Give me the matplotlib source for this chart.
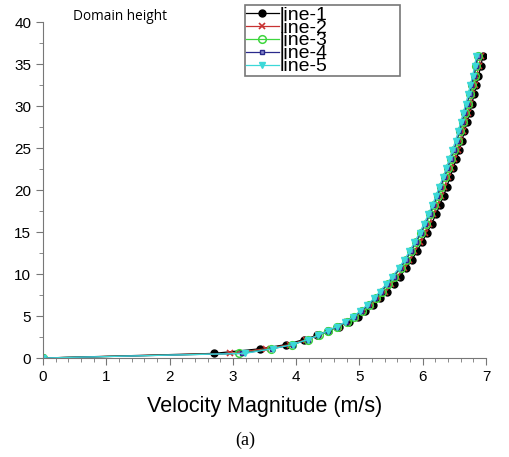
import matplotlib
matplotlib.use('Agg')
import matplotlib.pyplot as plt

# heights of the sample points (m)
heights = [0, 0.55, 1.1, 1.6, 2.2, 2.7, 3.25, 3.75, 4.3, 4.9, 5.6, 6.3, 7.1, 7.9, 8.8, 9.7,
           10.7, 11.7, 12.7, 13.8, 14.9, 16.0, 17.1, 18.2, 19.3, 20.4, 21.5, 22.6, 23.7,
           24.8, 25.9, 27.0, 28.1, 29.2, 30.3, 31.4, 32.5, 33.6, 34.8, 36.0]

# velocity magnitude for each line (m/s)
line1 = [0, 2.70, 3.43, 3.84, 4.12, 4.33, 4.50, 4.67, 4.83, 4.97, 5.09, 5.21, 5.33, 5.43,
         5.54, 5.64, 5.74, 5.83, 5.91, 5.99, 6.07, 6.14, 6.21, 6.27, 6.33, 6.38, 6.43, 6.48,
         6.53, 6.58, 6.62, 6.66, 6.70, 6.74, 6.78, 6.81, 6.85, 6.88, 6.92, 6.95]
line2 = [0, 2.95, 3.52, 3.90, 4.16, 4.35, 4.52, 4.67, 4.81, 4.94, 5.06, 5.18, 5.30, 5.40,
         5.50, 5.60, 5.70, 5.79, 5.87, 5.95, 6.03, 6.10, 6.17, 6.23, 6.29, 6.34, 6.40, 6.45,
         6.50, 6.55, 6.59, 6.63, 6.67, 6.71, 6.75, 6.78, 6.82, 6.85, 6.89, 6.92]
line3 = [0, 3.10, 3.60, 3.94, 4.18, 4.36, 4.51, 4.65, 4.80, 4.92, 5.04, 5.15, 5.26, 5.35,
         5.45, 5.55, 5.65, 5.74, 5.82, 5.90, 5.98, 6.05, 6.12, 6.18, 6.24, 6.29, 6.35, 6.40,
         6.45, 6.50, 6.55, 6.59, 6.63, 6.67, 6.71, 6.75, 6.78, 6.82, 6.85, 6.88]
line4 = [0, 3.15, 3.62, 3.95, 4.18, 4.35, 4.51, 4.65, 4.79, 4.91, 5.03, 5.14, 5.25, 5.34,
         5.44, 5.54, 5.64, 5.73, 5.81, 5.89, 5.97, 6.04, 6.11, 6.17, 6.23, 6.28, 6.34, 6.39,
         6.44, 6.49, 6.54, 6.58, 6.62, 6.66, 6.70, 6.74, 6.77, 6.81, 6.84, 6.87]
line5 = [0, 3.19, 3.63, 3.95, 4.18, 4.35, 4.50, 4.64, 4.78, 4.90, 5.01, 5.12, 5.23, 5.32,
         5.42, 5.52, 5.62, 5.71, 5.79, 5.87, 5.95, 6.02, 6.09, 6.15, 6.21, 6.26, 6.32, 6.37,
         6.42, 6.47, 6.52, 6.56, 6.60, 6.64, 6.68, 6.72, 6.75, 6.79, 6.82, 6.85]

labels = ['line-1', 'line-2', 'line-3', 'line-4', 'line-5']

fig = plt.figure(figsize=(5.1, 4.57), dpi=100)
ax = fig.add_axes([0.0843, 0.2166, 0.8686, 0.735])

# stijl per lijn
ax.plot(line1, heights, color='black', lw=0.9, marker='o', ms=5, label=labels[0])
ax.plot(line2, heights, color='#c83232', lw=0.9, marker='x', ms=4, mew=1.2, label=labels[1])
ax.plot(line3, heights, color='#3ed63e', lw=0.9, marker='o', ms=5.5, mfc='none', mew=1.1, label=labels[2])
ax.plot(line4, heights, color='#2a2a8c', lw=0.9, marker='s', ms=3.5, mfc='#8888cc', mew=1, label=labels[3])
ax.plot(line5, heights, color='#3cd8d8', lw=0.9, marker='v', ms=4.5, label=labels[4])

ax.set_xlim(0, 7)
ax.set_ylim(0, 40)
ax.spines['top'].set_visible(False)
ax.spines['right'].set_visible(False)
ax.spines['left'].set_color('#777777')
ax.spines['bottom'].set_color('#777777')
ax.set_xticks(range(0, 8))
ax.set_xticks([i * 0.2 for i in range(36)], minor=True)
ax.set_yticks(range(0, 41, 5))
ax.set_yticks([i * 2.5 for i in range(17)], minor=True)
ax.tick_params(which='major', length=5, color='#777777', labelsize=11)
ax.tick_params(which='minor', length=3, color='#777777')
for t in ax.get_xticklabels() + ax.get_yticklabels():
    t.set_fontfamily('Liberation Sans')

ax.set_xlabel('Velocity Magnitude (m/s)', fontsize=15.5, fontfamily='Liberation Sans', labelpad=9)

# de 'l' van elke regel vormt samen de verticale streep
leg = ax.legend(loc='upper left', bbox_to_anchor=(0.480, 0.834, 0.304, 0.155),
                bbox_transform=fig.transFigure, mode='expand', borderaxespad=0,
                labelspacing=-0.24, handlelength=1.7, handletextpad=0.05,
                borderpad=0.05, fancybox=False, frameon=True,
                prop={'family': 'Liberation Sans', 'size': 14})
leg.get_frame().set_edgecolor('#555555')
leg.get_frame().set_linewidth(1.2)

fig.text(0.143, 0.963, 'Domain height', fontsize=9.8, fontfamily='Open Sans', va='center')
fig.text(0.48, 0.037, '(a)', fontsize=13, fontfamily='Liberation Serif', ha='center', va='center')

fig.savefig('out.png', dpi=100)
